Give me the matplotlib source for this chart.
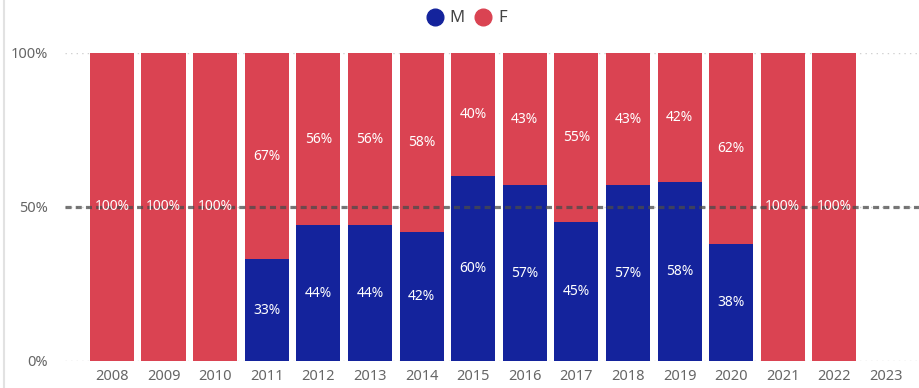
import numpy as np
import matplotlib
matplotlib.use('Agg')
import matplotlib.pyplot as plt
from matplotlib.lines import Line2D
from matplotlib.ticker import FuncFormatter

plt.rcParams['font.family'] = ['Noto Sans', 'DejaVu Sans']

years = ['2008', '2009', '2010', '2011', '2012', '2013', '2014', '2015',
         '2016', '2017', '2018', '2019', '2020', '2021', '2022', '2023']
male = [0, 0, 0, 33, 44, 44, 42, 60, 57, 45, 57, 58, 38, 0, 0, None]
female = [100, 100, 100, 67, 56, 56, 58, 40, 43, 55, 43, 42, 62, 100, 100, None]

colM = '#14239c'
colF = '#da4352'

fig = plt.figure(figsize=(9.19, 3.88), dpi=100)
ax = fig.add_axes([65 / 919, 27 / 388, 854 / 919, 308 / 388])

x = np.arange(len(years))
m = np.array([v if v is not None else 0 for v in male], dtype=float) / 100
f = np.array([v if v is not None else 0 for v in female], dtype=float) / 100

ax.bar(x, m, width=0.855, color=colM, zorder=2)
ax.bar(x, f, width=0.855, bottom=m, color=colF, zorder=2)

for i in range(len(years)):
    if male[i]:
        ax.text(x[i], m[i] / 2, f'{male[i]}%', ha='center', va='center',
                color='white', fontsize=10, zorder=5)
    if female[i]:
        ax.text(x[i], m[i] + f[i] / 2, f'{female[i]}%', ha='center', va='center',
                color='white', fontsize=10, zorder=5)

# 50% reference line
ax.axhline(0.5, color='#4a4a4a', alpha=0.75, lw=2.3, dashes=(1.9, 1.3), zorder=4)

ax.set_xlim(-0.91, 15.64)
ax.set_ylim(0, 1)
ax.set_yticks([0, 0.5, 1])
ax.yaxis.set_major_formatter(FuncFormatter(lambda v, p: f'{v:.0%}'))
ax.set_xticks(x)
ax.set_xticklabels(years)
ax.grid(axis='y', color='#d0d0d0', linestyle=(0, (1, 3)), lw=1, zorder=0)
ax.tick_params(length=0, labelsize=10.5, colors='#666666')
ax.tick_params(axis='y', pad=12)
ax.tick_params(axis='x', pad=6)
for s in ax.spines.values():
    s.set_visible(False)

handles = [Line2D([], [], marker='o', ls='', color=colM, markersize=12),
           Line2D([], [], marker='o', ls='', color=colF, markersize=12)]
fig.legend(handles, ['M', 'F'], loc='upper center', bbox_to_anchor=(0.503, 1.012),
           ncol=2, frameon=False, fontsize=12, handletextpad=-0.1,
           columnspacing=0.1, labelcolor='#444444')

fig.add_artist(Line2D([4 / 919, 4 / 919], [0, 1], color='#e2e2e2', lw=1.5))

fig.savefig('out.png', dpi=100)
